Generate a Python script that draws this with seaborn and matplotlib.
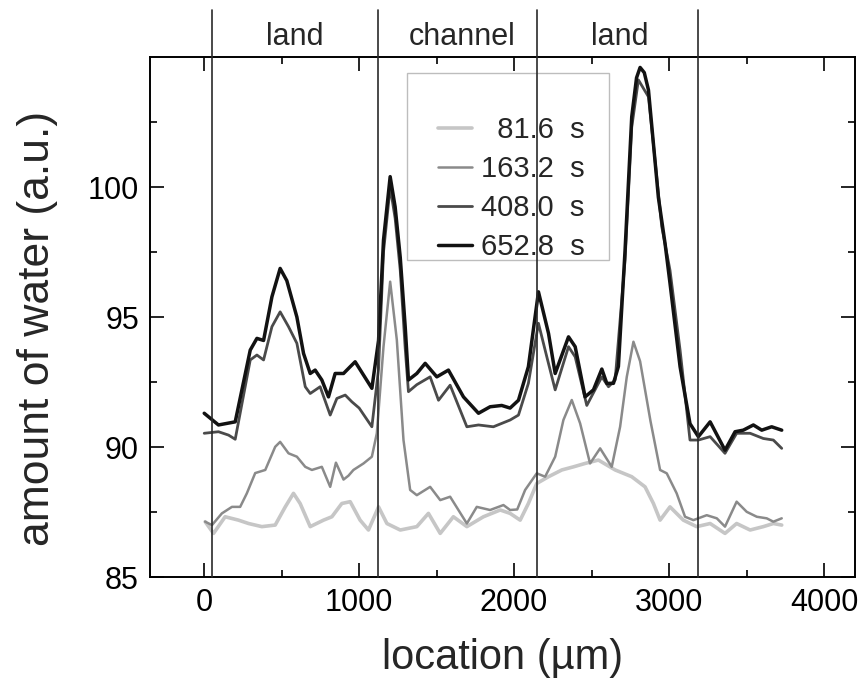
import matplotlib
matplotlib.use("Agg")
import matplotlib.pyplot as plt
import matplotlib.transforms as mtransforms
from matplotlib.patches import Rectangle
from matplotlib.ticker import MultipleLocator, FixedLocator
import pandas as pd
import seaborn as sns

# ---- data ----
series_labels = ["81.6 s", "163.2 s", "408.0 s", "652.8 s"]

x_816 = [6, 60, 135, 221, 286, 372, 458, 523, 576, 619, 684, 770, 824, 888, 942,
         1006, 1060, 1125, 1179, 1265, 1372, 1447, 1523, 1608, 1695, 1802, 1910,
         1974, 2039, 2092, 2146, 2222, 2308, 2383, 2458, 2544, 2652, 2759, 2845,
         2899, 2942, 3006, 3092, 3178, 3265, 3361, 3436, 3523, 3608, 3673, 3727]
y_816 = [87.13, 86.68, 87.32, 87.19, 87.06, 86.94, 87.0, 87.7, 88.22, 87.83, 86.94,
         87.19, 87.32, 87.83, 87.9, 87.19, 86.81, 87.7, 87.06, 86.81, 86.94, 87.45,
         86.68, 87.32, 86.94, 87.32, 87.58, 87.45, 87.19, 87.83, 88.6, 88.86, 89.12,
         89.24, 89.37, 89.5, 89.12, 88.86, 88.47, 87.83, 87.19, 87.7, 87.19, 86.94,
         87.06, 86.68, 87.06, 86.81, 86.94, 87.06, 87.0]

x_1632 = [6, 50, 114, 179, 232, 275, 329, 394, 458, 490, 544, 598, 652, 695, 759,
          813, 850, 899, 931, 963, 1028, 1082, 1114, 1157, 1200, 1243, 1286, 1329,
          1372, 1458, 1523, 1587, 1695, 1759, 1845, 1931, 1974, 2020, 2071, 2146,
          2200, 2265, 2318, 2372, 2426, 2490, 2555, 2630, 2684, 2727, 2770, 2813,
          2880, 2942, 2985, 3049, 3103, 3157, 3243, 3308, 3361, 3436, 3501, 3566,
          3630, 3673, 3727]
y_1632 = [87.13, 87.0, 87.45, 87.7, 87.7, 88.22, 89.0, 89.12, 90.01, 90.2, 89.76,
          89.63, 89.24, 89.12, 89.24, 88.47, 89.4, 88.75, 88.9, 89.12, 89.37, 89.63,
          90.53, 93.86, 96.36, 94.12, 90.27, 88.35, 88.15, 88.47, 87.96, 88.09, 87.06,
          87.7, 87.58, 87.77, 87.58, 87.6, 88.35, 88.99, 88.86, 89.63, 91.04, 91.81,
          90.91, 89.37, 89.95, 89.24, 90.78, 92.7, 94.05, 93.3, 91.0, 89.12, 88.99,
          88.22, 87.32, 87.19, 87.38, 87.26, 86.94, 87.9, 87.51, 87.32, 87.26, 87.13,
          87.26]

x_4080 = [0, 92, 157, 200, 297, 340, 383, 437, 490, 544, 598, 652, 684, 748, 813,
          856, 910, 953, 1000, 1082, 1125, 1157, 1200, 1232, 1265, 1297, 1318, 1372,
          1458, 1512, 1587, 1695, 1770, 1866, 1974, 2028, 2092, 2157, 2211, 2265,
          2351, 2394, 2469, 2566, 2609, 2652, 2716, 2759, 2802, 2867, 2910, 2953,
          3006, 3071, 3135, 3189, 3265, 3361, 3436, 3523, 3608, 3673, 3727]
y_4080 = [90.53, 90.59, 90.46, 90.3, 93.35, 93.54, 93.35, 94.63, 95.2, 94.63, 93.99,
          92.32, 92.06, 92.32, 91.23, 91.87, 92.0, 91.74, 91.5, 90.78, 93.0, 97.5,
          100.0, 98.8, 96.8, 93.8, 92.13, 92.4, 92.7, 91.8, 92.38, 90.78, 90.85, 90.78,
          91.04, 91.23, 92.45, 94.76, 93.47, 92.2, 93.86, 93.47, 91.6, 92.7, 92.32,
          92.58, 97.2, 102.3, 104.12, 103.47, 101.0, 98.47, 96.8, 93.73, 90.27, 90.27,
          90.4, 89.76, 90.53, 90.53, 90.33, 90.27, 89.95]

x_6528 = [0, 92, 200, 297, 340, 383, 437, 490, 533, 598, 641, 684, 716, 759, 802,
          845, 899, 942, 974, 1082, 1125, 1157, 1200, 1232, 1265, 1297, 1318, 1372,
          1426, 1501, 1576, 1673, 1770, 1845, 1920, 1974, 2028, 2092, 2157, 2222,
          2265, 2351, 2394, 2458, 2512, 2566, 2598, 2641, 2673, 2716, 2759, 2790,
          2813, 2840, 2867, 2931, 2974, 3006, 3071, 3135, 3189, 3265, 3361, 3426,
          3479, 3544, 3598, 3662, 3727]
y_6528 = [91.3, 90.85, 90.97, 93.73, 94.18, 94.1, 95.78, 96.87, 96.4, 95.0, 93.6,
          92.83, 92.96, 92.58, 91.93, 92.83, 92.83, 93.09, 93.28, 92.26, 94.1, 97.96,
          100.4, 99.24, 97.3, 94.63, 92.58, 92.83, 93.22, 92.7, 92.96, 91.93, 91.3,
          91.55, 91.6, 91.5, 91.8, 93.09, 95.97, 94.37, 92.83, 94.24, 93.86, 91.93,
          92.2, 93.0, 92.45, 92.45, 93.1, 97.58, 102.7, 104.2, 104.6, 104.4, 103.73,
          99.6, 97.83, 96.3, 93.09, 90.9, 90.4, 90.97, 89.88, 90.59, 90.65, 90.85,
          90.65, 90.78, 90.65]

boundaries = [52, 1119, 2148, 3185]
region_labels = ["land", "channel", "land"]
region_centers = [587, 1665, 2684]

# ---- build long table ----
frames = []
for lab, xs, ys in zip(series_labels, [x_816, x_1632, x_4080, x_6528],
                       [y_816, y_1632, y_4080, y_6528]):
    frames.append(pd.DataFrame({"location": xs, "water": ys, "time": lab}))
df = pd.concat(frames, ignore_index=True)

# ---- style ----
sns.set_style("ticks")
plt.rcParams["font.family"] = ["Liberation Sans", "DejaVu Sans"]
plt.rcParams["axes.edgecolor"] = "black"
plt.rcParams["axes.linewidth"] = 1.4

colors = {"81.6 s": "#c6c6c6", "163.2 s": "#8a8a8a", "408.0 s": "#4a4a4a", "652.8 s": "#121212"}
widths = {"81.6 s": 2.6, "163.2 s": 1.8, "408.0 s": 2.0, "652.8 s": 2.5}

fig = plt.figure(figsize=(8.64, 6.87), dpi=100)
ax = fig.add_axes([0.1736, 0.160, 0.8160, 0.757])

for lab in series_labels:
    sub = df[df["time"] == lab]
    sns.lineplot(data=sub, x="location", y="water", ax=ax, color=colors[lab],
                 lw=widths[lab], label=lab, sort=False, estimator=None, zorder=3)

ax.set_xlim(-350, 4200)
ax.set_ylim(85, 105)
ax.xaxis.set_major_locator(MultipleLocator(1000))
ax.xaxis.set_minor_locator(MultipleLocator(500))
ax.yaxis.set_major_locator(FixedLocator([85, 90, 95, 100]))
ax.yaxis.set_minor_locator(FixedLocator([87.5, 92.5, 97.5, 102.5]))
ax.tick_params(which="both", direction="in", top=True, right=True,
               color="black", width=1.2, labelsize=22, labelcolor="black")
ax.tick_params(which="major", length=10, pad=8)
ax.tick_params(which="minor", length=5)

ax.set_xlabel("location (µm)", fontsize=30, labelpad=14)
ax.set_ylabel("amount of water (a.u.)", fontsize=32)
ax.yaxis.set_label_coords(-0.130, 0.478)

# boundary lines extending above the frame
for b in boundaries:
    ax.axvline(b, ymin=0, ymax=1.09, color="#2a2a2a", lw=1.2, clip_on=False, zorder=5)

trans = mtransforms.blended_transform_factory(ax.transData, ax.transAxes)
for c, lab in zip(region_centers, region_labels):
    ax.text(c, 1.038, lab, transform=trans, ha="center", va="center", fontsize=22)

# legend with right-aligned labels and a separate light frame
handles, labels = ax.get_legend_handles_labels()
maxlen = max(len(l) for l in labels)
labels = ["  " * (maxlen - len(l)) + l.replace(" ", "  ") for l in labels]
leg = ax.legend(handles, labels, loc="upper left", bbox_to_anchor=(0.4085, 0.8865),
                fontsize=21, frameon=False, handlelength=1.16, handletextpad=0.30,
                labelspacing=0.38, borderpad=0, borderaxespad=0)
leg.set_zorder(4)
ax.add_patch(Rectangle((0.3645, 0.6096), 0.2866, 0.3596, transform=ax.transAxes,
                       fill=False, edgecolor="#bdbdbd", lw=1.0, zorder=4))

fig.savefig("out.png", dpi=100, facecolor="white")
